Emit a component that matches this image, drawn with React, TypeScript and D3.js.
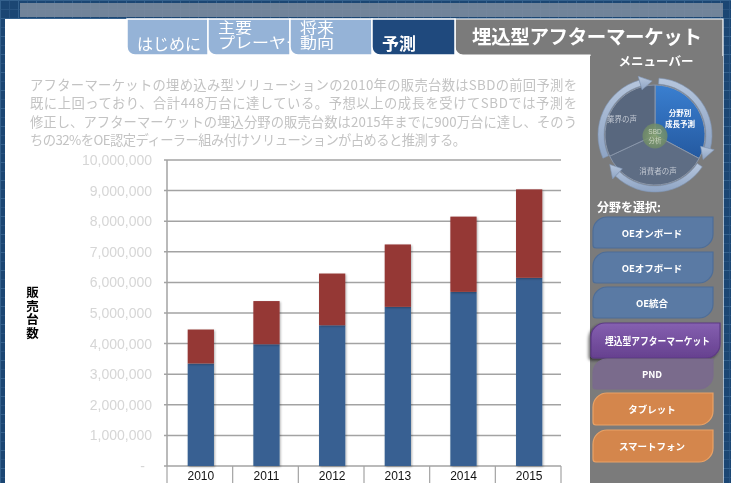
import React from 'react';
import * as d3 from 'd3';

const years = ['2010', '2011', '2012', '2013', '2014', '2015'];
const aftermarketUnits = [3350000, 3980000, 4600000, 5200000, 5690000, 6150000];
const oeDealerUnits = [1110000, 1410000, 1690000, 2040000, 2460000, 2890000];
const yTickValues = [0, 1000000, 2000000, 3000000, 4000000, 5000000, 6000000, 7000000, 8000000, 9000000, 10000000];
const yAxisTitle = '販売台数';
const tabLabels = [['はじめに'], ['主要', 'プレーヤー'], ['将来', '動向'], ['予測']];
const pageTitle = '埋込型アフターマーケット';
const menuTitle = 'メニューバー';
const selectLabel = '分野を選択:';
const menuButtons = ['OEオンボード', 'OEオフボード', 'OE統合', '埋込型アフターマーケット', 'PND', 'タブレット', 'スマートフォン'];
const paragraphLines = [
  'アフターマーケットの埋め込み型ソリューションの2010年の販売台数はSBDの前回予測を',
  '既に上回っており、合計448万台に達している。予想以上の成長を受けてSBDでは予測を',
  '修正し、アフターマーケットの埋込分野の販売台数は2015年までに900万台に達し、そのう',
  'ちの32%をOE認定ディーラー組み付けソリューションが占めると推測する。',
];

const W = 731;
const H = 483;
const JP = '"Noto Sans CJK JP", "Noto Sans", sans-serif';
const AR = '"Liberation Sans", Arial, sans-serif';

function leafPath(x: number, y: number, w: number, h: number, r: number, r2: number) {
  return `M${x + r},${y} H${x + w} V${y + h - r} A${r},${r} 0 0 1 ${x + w - r},${y + h} H${x + r2} A${r2},${r2} 0 0 1 ${x},${y + h - r2} V${y + r} A${r},${r} 0 0 1 ${x + r},${y} Z`;
}

function tabPath(x: number, y: number, w: number, h: number, r: number) {
  return `M${x},${y} H${x + w} V${y + h} H${x + r} A${r},${r} 0 0 1 ${x},${y + h - r} Z`;
}

export default function App() {
  const left = 167, right = 561, top = 160, bottom = 466;
  const x = d3.scaleBand<string>().domain(years).range([left, right]).padding(0);
  const y = d3.scaleLinear().domain([0, 10000000]).range([bottom, top]);
  const table = years.map((yr, i) => ({ year: yr, a: aftermarketUnits[i], b: oeDealerUnits[i] }));
  const series = d3.stack<any>().keys(['a', 'b'])(table);
  const colors: Record<string, string> = { a: '#386192', b: '#953836' };
  const bw = x.bandwidth();
  const fmt = d3.format(',');

  // cycle diagram
  const cx = 655, cy = 135;
  const deg = (d: number) => (d * Math.PI) / 180;
  const sectorArc = d3.arc<any>().innerRadius(0).outerRadius(50);
  const ringArc = d3.arc<any>().innerRadius(51).outerRadius(57);
  const sectors = [
    { s: 0, e: 118, fill: 'url(#blueSec)' },
    { s: 118, e: 245, fill: '#5e6d84' },
    { s: 245, e: 360, fill: '#58677e' },
  ];
  const rings = [
    { s: 4, e: 104 },
    { s: 124, e: 224 },
    { s: 246, e: 344 },
  ];
  const pt = (a: number, r: number) => [cx + r * Math.sin(deg(a)), cy - r * Math.cos(deg(a))];
  const arrowHead = (a: number) => {
    const p1 = pt(a, 47), p2 = pt(a, 61), tip = pt(a + 13, 54);
    return `M${p1[0]},${p1[1]} L${p2[0]},${p2[1]} L${tip[0]},${tip[1]} Z`;
  };

  const btnLayout = [
    { y: 217, h: 31, x: 593, w: 120, fill: '#5a7aa4', stroke: '#4d6d98', sel: false },
    { y: 252, h: 31, x: 593, w: 120, fill: '#5a7aa4', stroke: '#4d6d98', sel: false },
    { y: 287, h: 31, x: 593, w: 120, fill: '#5a7aa4', stroke: '#4d6d98', sel: false },
    { y: 323, h: 35, x: 591, w: 129, fill: 'url(#purpleBtn)', stroke: '#5d3a85', sel: true },
    { y: 359, h: 30, x: 593, w: 120, fill: '#7a6b8c', stroke: '#7a6b8c', sel: false },
    { y: 393, h: 32, x: 593, w: 120, fill: '#d4864c', stroke: '#e9a266', sel: false },
    { y: 430, h: 32, x: 593, w: 120, fill: '#d4864c', stroke: '#e9a266', sel: false },
  ];

  const tabs = [
    { x: 127, w: 81, fill: '#95b3d7' },
    { x: 208, w: 82, fill: '#95b3d7' },
    { x: 290, w: 82, fill: '#95b3d7' },
    { x: 372, w: 83, fill: '#1f497d' },
  ];

  return (
    <svg width={W} height={H} style={{ position: 'fixed', left: 0, top: 0 }} xmlns="http://www.w3.org/2000/svg">
      <defs>
        <pattern id="grid" width="18" height="18" patternUnits="userSpaceOnUse">
          <rect width="18" height="18" fill="#1b4673" />
          <path d="M0,0.5 H18 M0.5,0 V18" stroke="#3e6c98" strokeWidth="1" opacity="0.7" />
          <path d="M0,9.5 H18 M9.5,0 V18" stroke="#2f5b88" strokeWidth="1" opacity="0.6" />
        </pattern>
        <linearGradient id="blueSec" x1="0" y1="0" x2="0" y2="1">
          <stop offset="0" stopColor="#3a7fd0" />
          <stop offset="1" stopColor="#2459a0" />
        </linearGradient>
        <linearGradient id="ringGrad" x1="0" y1="0" x2="0" y2="1">
          <stop offset="0" stopColor="#b6c6dd" />
          <stop offset="1" stopColor="#8ea4c4" />
        </linearGradient>
        <linearGradient id="purpleBtn" x1="0" y1="0" x2="0" y2="1">
          <stop offset="0" stopColor="#8560b0" />
          <stop offset="1" stopColor="#66408f" />
        </linearGradient>
        <radialGradient id="centerGrad">
          <stop offset="0" stopColor="#8aa86f" />
          <stop offset="1" stopColor="#6f8a68" />
        </radialGradient>
        <filter id="barShadow" x="-20%" y="-5%" width="140%" height="110%">
          <feDropShadow dx="1" dy="1" stdDeviation="0.8" floodColor="#000" floodOpacity="0.3" />
        </filter>
        <filter id="btnShadow" x="-10%" y="-20%" width="120%" height="150%">
          <feDropShadow dx="-2" dy="2" stdDeviation="1.5" floodColor="#000" floodOpacity="0.55" />
        </filter>
        {tabs.map((t, i) => (
          <clipPath id={`tabClip${i}`} key={i}>
            <path d={tabPath(t.x, 19, t.w, 36, 8)} />
          </clipPath>
        ))}
      </defs>

      {/* background */}
      <rect x={0} y={0} width={W} height={H} fill="url(#grid)" />
      <rect x={20} y={3} width={703} height={14} fill="#7b8b9e" opacity={0.9} />
      {/* white page */}
      <rect x={5} y={19} width={590} height={H - 19} fill="#ffffff" />

      {/* gray tab + side panel */}
      <path d={`M455,19 H723 V${H} H590 V55 H463 A8,8 0 0 1 455,47 Z`} fill="#7b7b7b" stroke="#ffffff" strokeWidth={1.2} />
      <rect x={590} y={56} width={133} height={H - 56} fill="#7b7b7b" />

      {/* tabs */}
      {tabs.map((t, i) => (
        <g key={i}>
          <path d={tabPath(t.x, 19, t.w, 36, 8)} fill={t.fill} stroke="#ffffff" strokeWidth={1.5} />
          <g clipPath={`url(#tabClip${i})`}>
            {tabLabels[i].length === 1 ? (
              <text x={t.x + 10} y={50} fill="#ffffff" fontFamily={JP} fontSize={i === 3 ? 17 : 16} fontWeight={i === 3 ? 700 : 400}>
                {tabLabels[i][0]}
              </text>
            ) : (
              <text x={t.x + 10} y={32.5} fill="#ffffff" fontFamily={JP} fontSize={15}>
                {tabLabels[i].map((s, j) => (
                  <tspan key={j} x={t.x + 10} dy={j === 0 ? 0 : 15.5}
                    textLength={s.length * 17} lengthAdjust="spacingAndGlyphs">
                    {s}
                  </tspan>
                ))}
              </text>
            )}
          </g>
        </g>
      ))}
      <text x={472} y={44} fill="#ffffff" fontFamily={JP} fontSize={19.5} fontWeight={700} textLength={230} lengthAdjust="spacing">
        {pageTitle}
      </text>

      {/* paragraph */}
      {paragraphLines.map((ln, i) => (
        <text key={i} x={30} y={90 + i * 18.3} fill="#c3c3c3" fontFamily={JP} fontSize={13.3}
          textLength={i === 3 ? 436 : 547} lengthAdjust="spacing">
          {ln}
        </text>
      ))}

      {/* gridlines */}
      {yTickValues.map((v) => (
        <g key={v}>
          <line x1={left - 3} x2={right} y1={y(v)} y2={y(v)} stroke="#a3a3a3" strokeWidth={1.5} />
          <text x={v === 0 ? 145 : 152} y={y(v) + 5} textAnchor="end" fill="#d6d6d6" fontFamily={AR} fontSize={14}>
            {v === 0 ? '-' : fmt(v)}
          </text>
        </g>
      ))}
      <line x1={left} x2={left} y1={top} y2={bottom} stroke="#a3a3a3" strokeWidth={1.5} />
      {years.map((yr) => (
        <line key={'sep' + yr} x1={(x(yr) as number) + bw} x2={(x(yr) as number) + bw} y1={bottom} y2={H} stroke="#a3a3a3" strokeWidth={1.2} />
      ))}
      <line x1={left} x2={left} y1={bottom} y2={H} stroke="#a3a3a3" strokeWidth={1.2} />

      {/* bars */}
      {series.map((s) => (
        <g key={s.key} fill={colors[s.key]} filter="url(#barShadow)">
          {s.map((d: any) => (
            <rect key={d.data.year} x={(x(d.data.year) as number) + bw * 0.315} width={bw * 0.4}
              y={y(d[1])} height={y(d[0]) - y(d[1])} />
          ))}
        </g>
      ))}
      {years.map((yr) => (
        <text key={'xl' + yr} x={(x(yr) as number) + bw / 2 + 1} y={480} textAnchor="middle" fill="#111" fontFamily={AR} fontSize={12}>
          {yr}
        </text>
      ))}
      <text x={32.5} y={286} fill="#000" fontFamily={JP} fontSize={12.5} fontWeight={700}
        style={{ writingMode: 'vertical-rl' as any }} letterSpacing={1.2}>
        {yAxisTitle}
      </text>

      {/* side menu */}
      <text x={656} y={66} textAnchor="middle" fill="#ffffff" fontFamily={JP} fontSize={12.5} fontWeight={700}>
        {menuTitle}
      </text>
      {sectors.map((s, i) => (
        <path key={i} transform={`translate(${cx},${cy})`}
          d={sectorArc({ startAngle: deg(s.s), endAngle: deg(s.e) }) as string}
          fill={s.fill} stroke="#8996aa" strokeWidth={1} />
      ))}
      {rings.map((r, i) => (
        <g key={i} fill="url(#ringGrad)" stroke="#7f95b5" strokeWidth={0.6}>
          <path transform={`translate(${cx},${cy})`} d={ringArc({ startAngle: deg(r.s), endAngle: deg(r.e) }) as string} />
          <path d={arrowHead(r.e)} />
        </g>
      ))}
      <circle cx={cx} cy={cy + 1} r={12.5} fill="url(#centerGrad)" opacity={0.85} />
      <text x={cx} y={cy - 1} textAnchor="middle" fill="#c9d3bf" fontFamily={AR} fontSize={6.5}>SBD</text>
      <text x={cx} y={cy + 8} textAnchor="middle" fill="#c9d3bf" fontFamily={JP} fontSize={6.5}>分析</text>
      <text x={680} y={116} textAnchor="middle" fill="#ffffff" fontFamily={JP} fontSize={7.5} fontWeight={700}>分野別</text>
      <text x={680} y={127} textAnchor="middle" fill="#ffffff" fontFamily={JP} fontSize={7.5} fontWeight={700}>成長予測</text>
      <text x={622} y={122} textAnchor="middle" fill="#c2c8d2" fontFamily={JP} fontSize={7.5}>業界の声</text>
      <text x={658} y={174} textAnchor="middle" fill="#c2c8d2" fontFamily={JP} fontSize={7.5}>消費者の声</text>

      <text x={597} y={212} fill="#ffffff" fontFamily={JP} fontSize={12} fontWeight={700}>
        {selectLabel}
      </text>
      {menuButtons.map((label, i) => {
        const b = btnLayout[i];
        return (
          <g key={label}>
            <path d={leafPath(b.x, b.y, b.w, b.h, 14, 3)} fill={b.fill} stroke={b.stroke} strokeWidth={1.2}
              filter={b.sel ? 'url(#btnShadow)' : undefined} />
            {b.sel ? (
              <text x={605} y={b.y + b.h / 2 + 4} fill="#ffffff" fontFamily={JP} fontSize={10} fontWeight={700}
                textLength={105} lengthAdjust="spacingAndGlyphs">
                {label}
              </text>
            ) : (
              <text x={b.x + b.w / 2 - 1} y={b.y + b.h / 2 + 4} textAnchor="middle" fill="#ffffff"
                fontFamily={JP} fontSize={9.5} fontWeight={700}>
                {label}
              </text>
            )}
          </g>
        );
      })}
    </svg>
  );
}
